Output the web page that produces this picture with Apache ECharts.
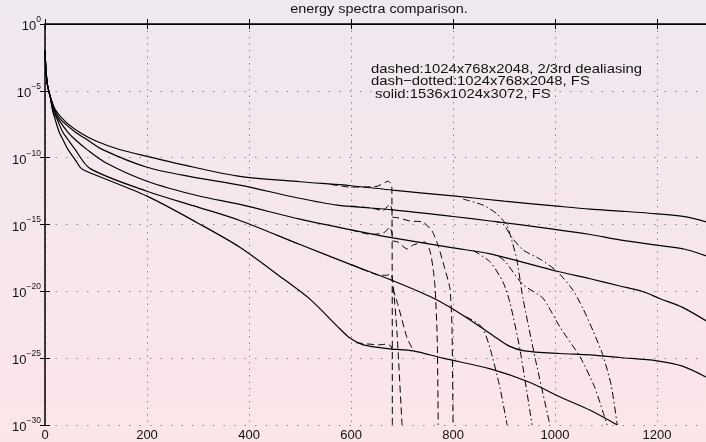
<!DOCTYPE html>
<html>
<head>
<meta charset="utf-8">
<script src="https://cdn.jsdelivr.net/npm/echarts@6/dist/echarts.min.js"></script>
<style>
html,body{margin:0;padding:0;}
#chart{width:706px;height:442px;}
</style>
</head>
<body>
<div id="chart"></div>
<script>
// points are [k, log10(E)]; the y axis runs in decades
var solidA = [[0,-2.0],[2,-3.5],[5,-4.6],[10,-5.4],[20,-6.4],[40,-7.3],[70,-8.15],[100,-8.75],[143,-9.35],[200,-9.9],[290,-10.7],[382,-11.4],[500,-11.8],[600,-12.1],[682,-12.43],[800,-12.86],[900,-13.25],[1010,-13.65],[1069,-13.85],[1130,-14.0],[1200,-14.2],[1260,-14.45],[1300,-14.85]];
var solidB = [[0,-2.0],[2,-3.5],[5,-4.6],[10,-5.4],[20,-6.5],[31,-7.15],[60,-8.1],[82,-8.64],[112,-9.38],[200,-10.72],[290,-11.45],[382,-12.05],[494,-13.0],[573,-13.55],[682,-13.9],[800,-14.4],[873,-14.74],[996,-15.34],[1069,-15.75],[1127,-16.15],[1200,-16.55],[1255,-16.85],[1300,-17.4]];
var solidC = [[0,-2.0],[2,-3.5],[5,-4.6],[10,-5.4],[18,-6.5],[27,-7.15],[45,-8.1],[59,-8.64],[82,-9.38],[120,-10.4],[200,-11.76],[300,-12.85],[382,-13.5],[500,-14.6],[600,-15.4],[682,-16.0],[800,-16.75],[873,-17.2],[1004,-18.5],[1069,-19.06],[1127,-19.6],[1173,-20.03],[1206,-20.55],[1250,-21.2],[1300,-22.3]];
var solidD = [[0,-2.0],[2,-3.5],[5,-4.6],[10,-5.4],[16,-6.5],[24,-7.15],[35,-8.1],[45,-8.64],[59,-9.38],[88,-10.8],[200,-12.51],[300,-13.7],[382,-14.7],[500,-16.5],[600,-18.0],[682,-19.2],[761,-20.5],[820,-21.8],[878,-23.3],[910,-24.1],[940,-24.45],[1010,-24.65],[1069,-24.75],[1127,-24.95],[1200,-25.2],[1250,-25.6],[1300,-26.5]];
var solidE = [[0,-2.0],[2,-3.5],[5,-4.6],[10,-5.4],[15,-6.5],[20,-7.15],[28,-8.1],[35,-8.64],[45,-9.38],[60,-10.2],[69,-10.72],[80,-11.0],[200,-12.88],[300,-14.9],[382,-16.7],[467,-19.06],[520,-20.6],[578,-22.8],[598,-23.5],[624,-24.0],[676,-24.3],[722,-24.45],[780,-25.0],[873,-25.8],[950,-26.8],[1010,-27.9],[1069,-28.9],[1122,-30]];

var dashA = [[560,-12.0],[598,-12.2],[651,-12.14],[673,-11.76],[680,-12.1],[681,-30]];
var dashB = [[600,-13.62],[637,-13.75],[663,-13.95],[676,-13.48],[681,-14.0]];
var dashC = [[600,-15.4],[640,-15.75],[665,-15.6],[676,-15.2],[681,-15.8]];
var dashD = [[600,-18.0],[650,-18.75],[670,-18.8],[678,-18.7],[682,-19.3],[690,-23.0],[700,-30]];
var dashE = [[610,-23.85],[655,-24.0],[670,-23.95],[678,-24.1],[681,-24.4]];
var dashB2 = [[681,-14.45],[692,-14.5],[716,-14.74],[741,-14.82],[759,-15.49],[771,-16.6],[784,-18.32],[794,-19.81],[798,-22.78],[800,-30]];
var dashC2 = [[681,-16.23],[692,-16.31],[710,-16.83],[722,-16.53],[745,-16.31],[755,-17.0],[761,-18.32],[765,-19.81],[769,-23.5],[771,-30]];
var dashD2 = [[682,-19.8],[692,-21.0],[710,-23.5],[722,-24.4]];

var ddA = [[820,-13.1],[859,-13.55],[886,-14.2],[906,-15.1],[916,-16.3],[925,-17.6],[937,-20.5],[961,-25.0],[990,-30]];
var ddB = [[880,-14.75],[898,-14.95],[916,-16.0],[937,-16.9],[971,-17.6],[1004,-18.5],[1035,-19.9],[1055,-21.3],[1075,-23.0],[1094,-24.8],[1110,-27.0],[1122,-30]];
var ddC = [[890,-17.4],[902,-17.75],[937,-19.5],[976,-20.5],[1010,-22.7],[1049,-24.9],[1078,-27.2],[1102,-30]];
var ddD = [[840,-16.95],[873,-17.8],[898,-19.3],[912,-20.9],[931,-24.3],[955,-30]];
var ddE = [[825,-21.9],[845,-22.3],[859,-22.8],[873,-24.3],[892,-27.2],[906,-30]];

var notes = ['dashed:1024x768x2048, 2/3rd dealiasing', 'dash\u2212dotted:1024x768x2048, FS', ' solid:1536x1024x3072, FS'];

var chart = echarts.init(document.getElementById('chart'));

function line(pts, dash, smooth) {
    return {
        type: 'line',
        data: pts,
        symbol: 'none',
        smooth: smooth,
        silent: true,
        lineStyle: { color: '#000', width: dash === 'solid' ? 1.2 : 1, type: dash }
    };
}
var dashed = [7, 4];
var dashdot = [7, 3, 1.5, 3];

// label 10^e
function expLabel(e) {
    return '{b|10}{s|' + (e < 0 ? '\u2212' + (-e) : e) + '}';
}

var font = '"Liberation Sans", Arial, sans-serif';

var option = {
    animation: false,
    backgroundColor: new echarts.graphic.LinearGradient(0, 0, 0, 1, [
        { offset: 0, color: '#f0e8f0' },
        { offset: 1, color: '#fbe5e8' }
    ]),
    grid: { left: 45, right: 0, top: 24, bottom: 15, containLabel: false },
    xAxis: [{
        type: 'value', min: 0, max: 1296, interval: 200, position: 'bottom',
        axisLine: { lineStyle: { color: '#000', width: 1.5 } },
        axisTick: { inside: true, length: 5, lineStyle: { color: '#000' } },
        axisLabel: { color: '#111', fontSize: 13, fontFamily: font, margin: 4, showMaxLabel: false,
            formatter: function (v) { return String(v); } },
        splitLine: { show: true, lineStyle: { color: '#8a8a8a', type: [1.5, 5], width: 1 } }
    }, {
        type: 'value', min: 0, max: 1296, interval: 200, position: 'top',
        axisLine: { lineStyle: { color: '#000', width: 1.2 } },
        axisTick: { inside: true, length: 5, lineStyle: { color: '#000' } },
        axisLabel: { show: false },
        splitLine: { show: false }
    }],
    yAxis: [{
        type: 'value', min: -30, max: 0, interval: 5,
        axisLine: { show: true, lineStyle: { color: '#000', width: 1.5 } },
        axisTick: { show: true, inside: true, length: 5, lineStyle: { color: '#000' } },
        axisLabel: {
            formatter: expLabel, margin: 4,
            rich: {
                b: { fontSize: 13, fontFamily: font, color: '#111', lineHeight: 18, verticalAlign: 'bottom' },
                s: { fontSize: 8.5, fontFamily: font, color: '#111', lineHeight: 8, verticalAlign: 'top' }
            }
        },
        splitLine: { show: true, lineStyle: { color: '#8a8a8a', type: [1.5, 9], width: 1 } }
    }, {
        type: 'value', min: -30, max: 0, interval: 5, position: 'right',
        axisLine: { show: false },
        axisTick: { show: true, inside: true, length: 5, lineStyle: { color: '#000' } },
        axisLabel: { show: false },
        splitLine: { show: false }
    }],
    graphic: [
        { type: 'text', x: 379, y: 10, scaleX: 1.2, style: { text: 'energy spectra comparison.', font: '12px ' + font, fill: '#111', textAlign: 'center', textVerticalAlign: 'middle' } },
        { type: 'text', x: 371, y: 69, scaleX: 1.14, style: { text: notes[0], font: '13px ' + font, fill: '#111', textVerticalAlign: 'middle' } },
        { type: 'text', x: 371, y: 81, scaleX: 1.14, style: { text: notes[1], font: '13px ' + font, fill: '#111', textVerticalAlign: 'middle' } },
        { type: 'text', x: 371, y: 94, scaleX: 1.14, style: { text: notes[2], font: '13px ' + font, fill: '#111', textVerticalAlign: 'middle' } }
    ],
    series: [
        line(solidA, 'solid', 0.3), line(solidB, 'solid', 0.3), line(solidC, 'solid', 0.3),
        line(solidD, 'solid', 0.3), line(solidE, 'solid', 0.3),
        line(dashA, dashed, 0.2), line(dashB, dashed, 0.2), line(dashC, dashed, 0.2),
        line(dashD, dashed, 0.2), line(dashE, dashed, 0.2),
        line(dashB2, dashed, 0.2), line(dashC2, dashed, 0.2), line(dashD2, dashed, 0.2),
        line(ddA, dashdot, 0.2), line(ddB, dashdot, 0.2), line(ddC, dashdot, 0.2),
        line(ddD, dashdot, 0.2), line(ddE, dashdot, 0.2)
    ]
};
chart.setOption(option);
</script>
</body>
</html>
